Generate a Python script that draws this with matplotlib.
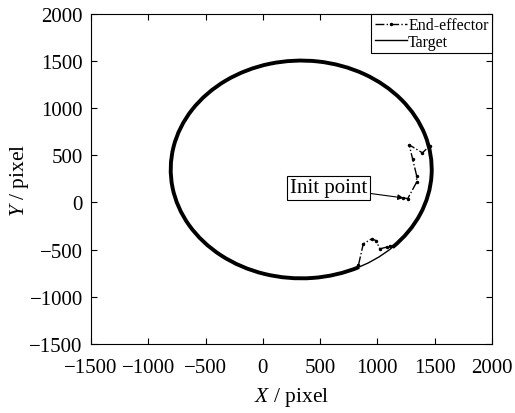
import matplotlib
matplotlib.use("Agg")
import matplotlib.pyplot as plt
from matplotlib.patches import Ellipse, Arc
from matplotlib.lines import Line2D

plt.rcParams['font.family'] = ['Liberation Serif', 'DejaVu Serif']
plt.rcParams['mathtext.fontset'] = 'custom'
plt.rcParams['mathtext.it'] = 'Liberation Serif:italic'
plt.rcParams['mathtext.rm'] = 'Liberation Serif'

# target circle (pixel units)
target_center = (335, 350)
target_width = 2280
target_height = 2310

# end-effector: arc where it follows the target (degrees), plus the off-track parts
track_theta = (-46, 296)
start_x = [1225, 1265, 1343, 1343, 1308, 1278, 1394, 1459]
start_y = [50, 40, 215, 285, 462, 611, 526, 603]
catch_x = [835, 877, 950, 988, 1022, 1081, 1110]
catch_y = [-665, -439, -386, -404, -492, -474, -457]
init_point = (1228, 48)

ticks = [-1500, -1000, -500, 0, 500, 1000, 1500, 2000]

fig = plt.figure(figsize=(5.15, 4.14), dpi=100)
ax = fig.add_axes([0.177, 0.167, 0.778, 0.797])

ax.add_patch(Ellipse(target_center, target_width, target_height,
                     fill=False, edgecolor='black', lw=1.0))
ax.add_patch(Arc(target_center, target_width, target_height,
                 theta1=track_theta[0], theta2=track_theta[1],
                 edgecolor='black', lw=2.8))
ax.plot(start_x, start_y, '-.', color='black', lw=1.0, marker='.', ms=3)
ax.plot(catch_x, catch_y, '-.', color='black', lw=1.0, marker='.', ms=3)

ax.annotate('Init point', xy=init_point, xytext=(573, 155),
            ha='center', va='center', fontsize=15,
            bbox=dict(boxstyle='square,pad=0.12', fc='white', ec='black', lw=0.8),
            arrowprops=dict(arrowstyle='-|>', color='black', lw=0.8,
                            mutation_scale=8, shrinkA=0, shrinkB=0))

ax.set_xlim(-1500, 2000)
ax.set_ylim(-1500, 2000)
ax.set_xticks(ticks)
ax.set_yticks(ticks)
ax.tick_params(direction='in', length=4, width=0.8, top=True, right=True,
               labelsize=15)
ax.tick_params(axis='x', pad=10)
ax.tick_params(axis='y', pad=6)
for s in ax.spines.values():
    s.set_linewidth(0.8)

ax.set_xlabel('$X$ / pixel', fontsize=15.5, labelpad=6)
ax.set_ylabel('$Y$ / pixel', fontsize=15.5, labelpad=-1)

handles = [Line2D([], [], color='black', ls='-.', lw=1.0, marker='.', ms=3),
           Line2D([], [], color='black', ls='-', lw=1.0)]
leg = ax.legend(handles, ['End-effector', 'Target'], loc='upper right',
                fontsize=11.5, handlelength=2.0, handletextpad=0.1,
                borderaxespad=0, borderpad=0.2, labelspacing=0.05,
                fancybox=False, framealpha=1, edgecolor='black')
leg.get_frame().set_linewidth(0.8)

fig.savefig('out.png', dpi=100)
